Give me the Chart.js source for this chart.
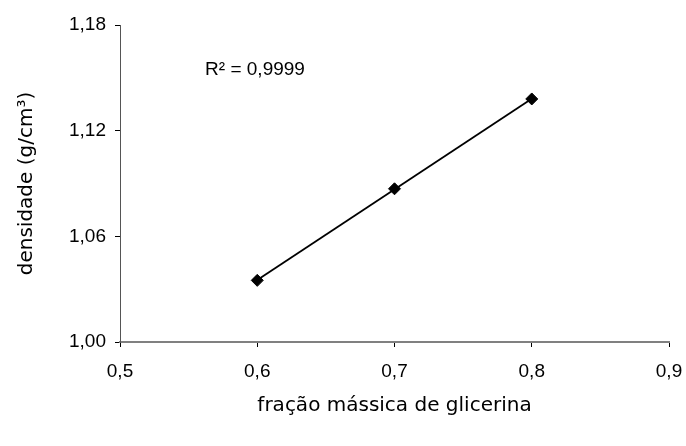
<!DOCTYPE html>
<html lang="pt">
<head>
<meta charset="utf-8">
<title>Densidade x fração mássica de glicerina</title>
<script src="https://cdn.jsdelivr.net/npm/chart.js@4.4.1/dist/chart.umd.min.js"></script>
<style>
    html, body { margin: 0; padding: 0; background: #fff; }
    #wrap { width: 686px; height: 446px; }
</style>
</head>
<body>
<div id="wrap"><canvas id="densityChart" width="686" height="446"></canvas></div>
<script>
// fração mássica de glicerina e densidade medida (g/cm3)
const massFractions = [0.6, 0.7, 0.8];
const densities = [1.035, 1.087, 1.138];

const xTicks = [0.5, 0.6, 0.7, 0.8, 0.9];
const yTicks = [1.00, 1.06, 1.12, 1.18];

const xTitle = 'fração mássica de glicerina';
const yTitle = 'densidade (g/cm³)';
const rSquaredLabel = 'R² = 0,9999';
const rSquaredAt = { x: 0.562, y: 1.1515 };

const TICK_FONT = 'Liberation Sans, Arial, sans-serif';
const TITLE_FONT = 'DejaVu Sans, Verdana, sans-serif';

// least squares fit, drawn only over the measured range
function linearFit(xs, ys) {
    const n = xs.length;
    const mx = xs.reduce((a, b) => a + b, 0) / n;
    const my = ys.reduce((a, b) => a + b, 0) / n;
    let sxy = 0;
    let sxx = 0;
    xs.forEach((x, i) => {
        sxy += (x - mx) * (ys[i] - my);
        sxx += (x - mx) * (x - mx);
    });
    const slope = sxy / sxx;
    return { slope, intercept: my - slope * mx };
}

const fit = linearFit(massFractions, densities);
const xMin = Math.min(...massFractions);
const xMax = Math.max(...massFractions);
const trendPoints = [xMin, xMax].map((x) => ({ x, y: fit.intercept + fit.slope * x }));

const comma = (v, digits) => v.toFixed(digits).replace('.', ',');

const rSquaredText = {
    id: 'rSquaredText',
    afterDatasetsDraw(chart) {
        const { ctx, scales } = chart;
        ctx.save();
        ctx.font = '19px ' + TICK_FONT;
        ctx.fillStyle = '#000';
        ctx.textAlign = 'left';
        ctx.textBaseline = 'alphabetic';
        ctx.fillText(rSquaredLabel, scales.x.getPixelForValue(rSquaredAt.x), scales.y.getPixelForValue(rSquaredAt.y));
        ctx.restore();
    }
};

new Chart(document.getElementById('densityChart'), {
    type: 'scatter',
    data: {
        datasets: [
            {
                label: 'densidade',
                data: massFractions.map((x, i) => ({ x, y: densities[i] })),
                pointStyle: 'rectRot',
                pointRadius: 6,
                backgroundColor: '#000',
                borderColor: '#000',
                borderWidth: 1,
                order: 1
            },
            {
                label: 'tendência linear',
                data: trendPoints,
                showLine: true,
                pointRadius: 0,
                borderColor: '#000',
                borderWidth: 1.8,
                fill: false,
                order: 2
            }
        ]
    },
    options: {
        responsive: false,
        animation: false,
        layout: { padding: { left: 0, right: 17, top: 25, bottom: 0 } },
        plugins: {
            legend: { display: false },
            tooltip: { enabled: false }
        },
        scales: {
            x: {
                type: 'linear',
                min: 0.5,
                max: 0.9,
                afterBuildTicks: (scale) => { scale.ticks = xTicks.map((value) => ({ value })); },
                afterFit: (scale) => {
                    scale.height = 104;
                    scale.paddingLeft = 0;
                    scale.paddingRight = 0;
                },
                border: { display: true, color: '#808080', width: 2 },
                grid: { drawOnChartArea: false, color: '#000', tickLength: 5, tickWidth: 1 },
                ticks: {
                    color: '#000',
                    padding: 13,
                    maxRotation: 0,
                    font: { family: TICK_FONT, size: 19 },
                    callback: (v) => comma(v, 1)
                },
                title: {
                    display: true,
                    text: xTitle,
                    color: '#000',
                    font: { family: TITLE_FONT, size: 20 },
                    padding: { top: 0, bottom: 28 }
                }
            },
            y: {
                type: 'linear',
                min: 1.00,
                max: 1.18,
                afterBuildTicks: (scale) => { scale.ticks = yTicks.map((value) => ({ value })); },
                afterFit: (scale) => { scale.width = 120; },
                border: { display: true, color: '#555', width: 1 },
                grid: { drawOnChartArea: false, color: '#000', tickLength: 5, tickWidth: 1 },
                ticks: {
                    color: '#000',
                    padding: 9,
                    font: { family: TICK_FONT, size: 19 },
                    callback: (v) => comma(v, 2)
                },
                title: {
                    display: true,
                    text: yTitle,
                    color: '#000',
                    font: { family: TITLE_FONT, size: 20 },
                    padding: { top: 15, bottom: 0 }
                }
            }
        }
    },
    plugins: [rSquaredText]
});
</script>
</body>
</html>
